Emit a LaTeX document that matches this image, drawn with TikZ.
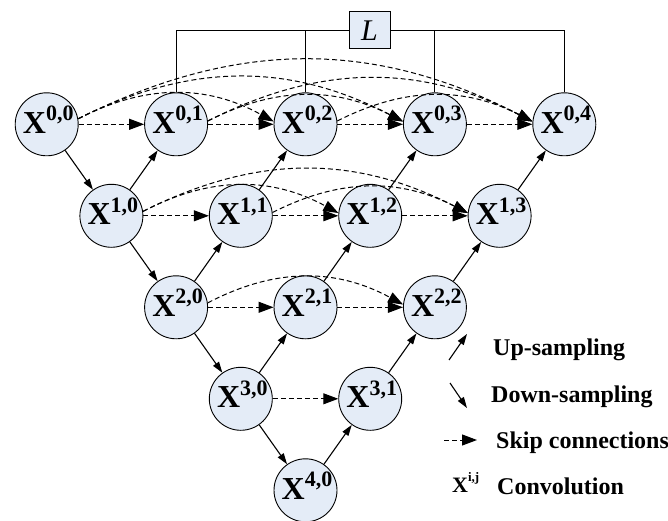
\documentclass[tikz,border=0pt]{standalone}
\usepackage{fontspec}
\setmainfont{Liberation Serif}
\usetikzlibrary{arrows.meta,calc}
\definecolor{cellfill}{HTML}{E4ECF7}
\begin{document}
\begin{tikzpicture}[x=1pt,y=-1pt,
  cell/.style={circle,draw=black,line width=0.9pt,fill=cellfill,minimum size=63pt,inner sep=0pt},
  lbl/.style={inner sep=0pt,anchor=base west,font=\fontsize{32}{32}\selectfont\bfseries},
  samp/.style={line width=1.1pt,-{Triangle[length=11pt,width=7pt]}},
  skipc/.style={line width=1pt,dash pattern=on 5pt off 3pt,-{Triangle[length=15pt,width=11pt]}},
  lossline/.style={line width=1pt},
  legtxt/.style={inner sep=0pt,anchor=base west,font=\fontsize{24}{24}\selectfont\bfseries}]
\useasboundingbox (0,0) rectangle (668,521);

\foreach \i/\j in {0/0,0/1,0/2,0/3,0/4,1/0,1/1,1/2,1/3,2/0,2/1,2/2,3/0,3/1,4/0} {
  \node[cell] (X\i\j) at ({46.7+64.7*(\i+2*\j)},{124.3+91.5*\i}) {};
  \node[lbl,xshift=-24pt,yshift=-9pt] (T\i\j) at (X\i\j.center) {X\raisebox{12.5pt}{\fontsize{22}{22}\selectfont\i,\j}};
}

% loss box
\node[draw,line width=1pt,fill=cellfill,minimum width=41pt,minimum height=37pt,inner sep=0pt,font=\fontsize{30}{30}\selectfont\itshape] (L) at (369.5,30.5) {L};
\draw[lossline] (X01.north) |- (L.west);
\draw[lossline] (X02.north) -- (X02.north |- L.west);
\draw[lossline] (X03.north) -- (X03.north |- L.east);
\draw[lossline] (X04.north) |- (L.east);

% down-sampling
\draw[samp] (X00) -- (X10);
\draw[samp] (X10) -- (X20);
\draw[samp] (X20) -- (X30);
\draw[samp] (X30) -- (X40);
% up-sampling
\draw[samp] (X10) -- (X01);
\draw[samp] (X20) -- (X11);
\draw[samp] (X11) -- (X02);
\draw[samp] (X30) -- (X21);
\draw[samp] (X21) -- (X12);
\draw[samp] (X12) -- (X03);
\draw[samp] (X40) -- (X31);
\draw[samp] (X31) -- (X22);
\draw[samp] (X22) -- (X13);
\draw[samp] (X13) -- (X04);

% straight skip connections
\draw[skipc] (X00) -- (X01);
\draw[skipc] (X01) -- (X02);
\draw[skipc] (X02) -- (X03);
\draw[skipc] (X03) -- (X04);
\draw[skipc] (X10) -- (X11);
\draw[skipc] (X11) -- (X12);
\draw[skipc] (X12) -- (X13);
\draw[skipc] (X20) -- (X21);
\draw[skipc] (X21) -- (X22);
\draw[skipc] (X30) -- (X31);

% dense (curved) skip connections
\draw[skipc] (X00.10) to[bend left=28] (X02.175);
\draw[skipc] (X00.10) to[bend left=27] (X03.175);
\draw[skipc] (X00.10) to[bend left=27] (X04.175);
\draw[skipc] (X01.6) to[bend left=27] (X03.175);
\draw[skipc] (X01.6) to[bend left=27] (X04.175);
\draw[skipc] (X02.6) to[bend left=27] (X04.175);
\draw[skipc] (X10.8) to[bend left=28] (X12.175);
\draw[skipc] (X10.8) to[bend left=27] (X13.175);
\draw[skipc] (X11.6) to[bend left=27] (X13.175);
\draw[skipc] (X20.8) to[bend left=28] (X22.175);

% legend
\coordinate (u1) at (449,360); \coordinate (u2) at (467,334);
\coordinate (d1) at (450,383); \coordinate (d2) at (467,408);
\coordinate (s1) at (444,440); \coordinate (s2) at (477,440);
\draw[samp] (u1) -- (u2);
\draw[samp] (d1) -- (d2);
\draw[skipc] (s1) -- (s2);
\node[legtxt] (lu) at (493,355) {Up-sampling};
\node[legtxt] (ld) at (491,402.7) {Down-sampling};
\node[legtxt] (ls) at (496,448.3) {Skip connections};
\node[legtxt] (lx) at (452,492) {\fontsize{22}{22}\selectfont\textbf{X}\raisebox{10.5pt}{\fontsize{13}{13}\selectfont\textbf{i,j}}};
\node[legtxt] (lc) at (497,494) {Convolution};
\end{tikzpicture}
\end{document}
